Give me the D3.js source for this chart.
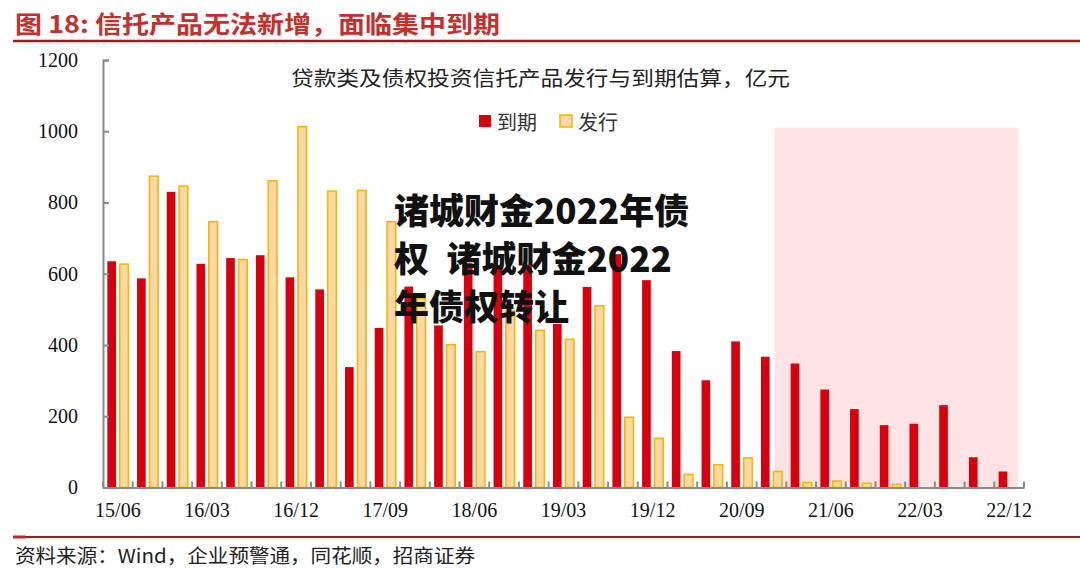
<!DOCTYPE html>
<html>
<head>
<meta charset="utf-8">
<script src="https://cdn.jsdelivr.net/npm/d3@7"></script>
<style>
  body { margin: 0; background: #fff; }
  svg { display: block; }
</style>
</head>
<body>
<div id="chart"></div>
<script>
// quarters, 15/06 .. 22/12
const quarters = ["15/06","15/09","15/12","16/03","16/06","16/09","16/12","17/03","17/06","17/09","17/12",
  "18/03","18/06","18/09","18/12","19/03","19/06","19/09","19/12","20/03","20/06","20/09","20/12",
  "21/03","21/06","21/09","21/12","22/03","22/06","22/09","22/12"];
// 到期 (red)
const maturing = [635,587,830,628,644,652,590,556,338,448,564,455,630,625,626,459,563,655,582,383,301,410,367,
  348,275,220,175,179,231,85,45];
// 发行 (yellow)
const issued = [627,874,846,746,640,861,1013,832,834,746,530,401,381,495,441,416,510,197,138,37,64,83,45,
  14,18,12,9,0,0,0,0];
const xLabels = ["15/06","16/03","16/12","17/09","18/06","19/03","19/12","20/09","21/06","22/03","22/12"];
const yTicks = [0,200,400,600,800,1000,1200];
const seriesNames = ["到期","发行"];
const shadeFrom = "20/12", shadeTo = "22/12", shadeTop = 1010;

const W = 1080, H = 573;
const svg = d3.select("#chart").append("svg").attr("width", W).attr("height", H);
svg.append("rect").attr("width", W).attr("height", H).attr("fill", "#fff");

// header
svg.append("text")
  .attr("x", 15).attr("y", 22)
  .attr("dominant-baseline", "central")
  .attr("textLength", 485).attr("lengthAdjust", "spacingAndGlyphs")
  .style("font-family", "'Noto Sans CJK SC', sans-serif")
  .style("font-weight", "bold").style("font-size", "24px")
  .attr("fill", "#C4302D")
  .text("图 18: 信托产品无法新增，面临集中到期");
svg.append("line").attr("x1", 13).attr("x2", W).attr("y1", 41).attr("y2", 41)
  .attr("stroke", "#9E1B1F").attr("stroke-width", 2.5);

const x0 = d3.scaleBand().domain(quarters).range([103, 1024]);
const x1 = d3.scaleBand().domain(seriesNames).range([0, x0.bandwidth()])
  .paddingInner(0.3).paddingOuter(0.35);
const y = d3.scaleLinear().domain([0, 1200]).range([487.5, 60]);
const colors = { "到期": "#D7000F", "发行": "#FDD8A6" };

// shaded forecast area
svg.append("rect")
  .attr("x", x0(shadeFrom) + x0.bandwidth() * 0.6)
  .attr("y", y(shadeTop))
  .attr("width", x0(shadeTo) + x0.bandwidth() * 0.8 - (x0(shadeFrom) + x0.bandwidth() * 0.6))
  .attr("height", y(0) - y(shadeTop))
  .attr("fill", "#FDE3E3");

// bars
const rows = quarters.map((q, i) => ({ q, vals: [["到期", maturing[i]], ["发行", issued[i]]] }));
const g = svg.selectAll("g.grp").data(rows).enter().append("g")
  .attr("class", "grp")
  .attr("transform", d => "translate(" + x0(d.q) + ",0)");
g.selectAll("rect").data(d => d.vals.filter(v => v[1] > 0)).enter().append("rect")
  .attr("x", d => x1(d[0]))
  .attr("y", d => y(d[1]))
  .attr("width", x1.bandwidth())
  .attr("height", d => y(0) - y(d[1]))
  .attr("fill", d => colors[d[0]])
  .attr("stroke", d => d[0] === "发行" ? "#F5B800" : "none")
  .attr("stroke-width", 1.6);

// y axis
const yAxis = svg.append("g").attr("transform", "translate(103,0)")
  .call(d3.axisLeft(y).tickValues(yTicks).tickFormat(d3.format("d")).tickSize(-6).tickPadding(25));
yAxis.select(".domain").attr("stroke", "#8a8a8a").attr("stroke-width", 2);
yAxis.selectAll(".tick line").attr("stroke", "#8a8a8a").attr("stroke-width", 2);
yAxis.selectAll("text")
  .style("font-family", "'Liberation Serif', serif").style("font-size", "20px").attr("fill", "#111");

// x axis
const xAxis = svg.append("g").attr("transform", "translate(0," + y(0) + ")")
  .call(d3.axisBottom(x0).tickValues(xLabels).tickSize(0).tickPadding(15));
xAxis.select(".domain").attr("stroke", "#8a8a8a").attr("stroke-width", 2);
xAxis.selectAll("text")
  .style("font-family", "'Liberation Serif', serif").style("font-size", "20px").attr("fill", "#111");
// tick marks at band edges, pointing up
const edges = quarters.map(q => x0(q)).concat([x0.range()[1]]);
xAxis.selectAll("line.edge").data(edges).enter().append("line")
  .attr("class", "edge")
  .attr("x1", d => d).attr("x2", d => d).attr("y1", 0).attr("y2", -6)
  .attr("stroke", "#8a8a8a").attr("stroke-width", 2);

// chart title
svg.append("text")
  .attr("x", 291).attr("y", 77).attr("dominant-baseline", "central")
  .attr("textLength", 499).attr("lengthAdjust", "spacingAndGlyphs")
  .style("font-family", "'Noto Sans CJK SC', sans-serif").style("font-size", "20px")
  .attr("fill", "#222")
  .text("贷款类及债权投资信托产品发行与到期估算，亿元");

// legend
const legend = [
  { name: "到期", x: 479, fill: colors["到期"], stroke: "none" },
  { name: "发行", x: 560, fill: colors["发行"], stroke: "#F5B800" }
];
const lg = svg.selectAll("g.lg").data(legend).enter().append("g").attr("class", "lg");
lg.append("rect").attr("x", d => d.x).attr("y", 115).attr("width", 12).attr("height", 12)
  .attr("fill", d => d.fill).attr("stroke", d => d.stroke).attr("stroke-width", 1.6);
lg.append("text").attr("x", d => d.x + 18).attr("y", 121).attr("dominant-baseline", "central")
  .style("font-family", "'Noto Sans CJK SC', sans-serif").style("font-size", "20px")
  .attr("fill", "#333").text(d => d.name);

// overlay text
const overlay = ["诸城财金2022年债", "权\u2002诸城财金2022", "年债权转让"];
svg.selectAll("text.ov").data(overlay).enter().append("text")
  .attr("class", "ov")
  .attr("x", 394).attr("y", (d, i) => 208 + i * 48)
  .attr("dominant-baseline", "central")
  .style("font-family", "'Noto Sans CJK SC', sans-serif")
  .style("font-weight", "900").style("font-size", "35px")
  .attr("fill", "#111")
  .text(d => d);

// footer
svg.append("line").attr("x1", 13).attr("x2", W).attr("y1", 537).attr("y2", 537)
  .attr("stroke", "#9E1B1F").attr("stroke-width", 2);
svg.append("line").attr("x1", 13).attr("x2", 26).attr("y1", 537).attr("y2", 537)
  .attr("stroke", "#C0282D").attr("stroke-width", 3);
svg.append("text")
  .attr("x", 15).attr("y", 554).attr("dominant-baseline", "central")
  .attr("textLength", 460).attr("lengthAdjust", "spacingAndGlyphs")
  .style("font-family", "'Noto Sans CJK SC', sans-serif").style("font-size", "19px")
  .attr("fill", "#222")
  .text("资料来源：Wind，企业预警通，同花顺，招商证券");
</script>
</body>
</html>
